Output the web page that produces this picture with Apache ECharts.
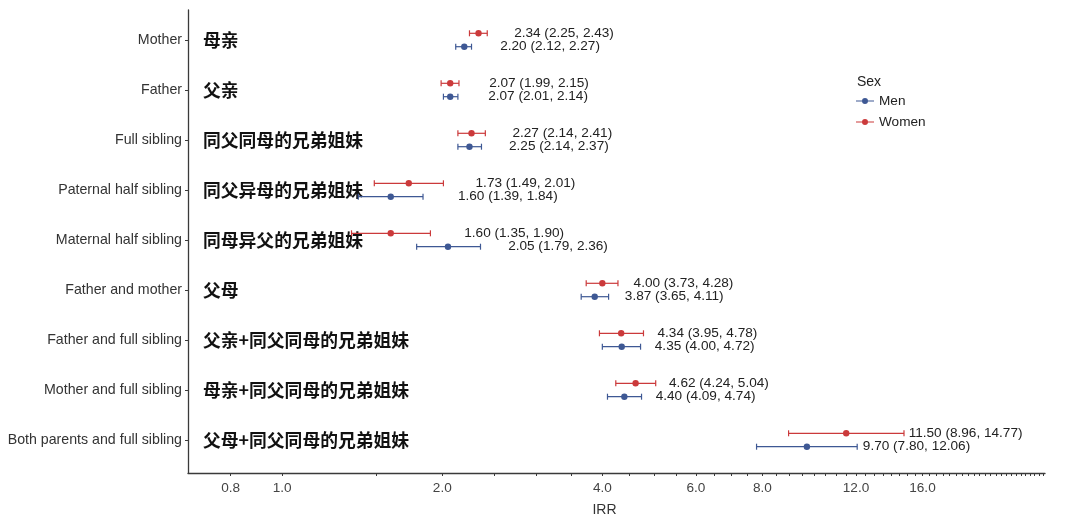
<!DOCTYPE html>
<html>
<head>
<meta charset="utf-8">
<script src="https://cdn.jsdelivr.net/npm/echarts@6/dist/echarts.min.js"></script>
<style>
html,body{margin:0;padding:0;background:#fff;}
#chart{width:1080px;height:522px;}
</style>
</head>
<body>
<div id="chart"></div>
<script>
const categories = ['Mother','Father','Full sibling','Paternal half sibling','Maternal half sibling','Father and mother','Father and full sibling','Mother and full sibling','Both parents and full sibling'];
const categoriesZh = ['母亲','父亲','同父同母的兄弟姐妹','同父异母的兄弟姐妹','同母异父的兄弟姐妹','父母','父亲+同父同母的兄弟姐妹','母亲+同父同母的兄弟姐妹','父母+同父同母的兄弟姐妹'];
const womenEst = [2.34,2.07,2.27,1.73,1.60,4.00,4.34,4.62,11.50];
const womenLo  = [2.25,1.99,2.14,1.49,1.35,3.73,3.95,4.24,8.96];
const womenHi  = [2.43,2.15,2.41,2.01,1.90,4.28,4.78,5.04,14.77];
const menEst = [2.20,2.07,2.25,1.60,2.05,3.87,4.35,4.40,9.70];
const menLo  = [2.12,2.01,2.14,1.39,1.79,3.65,4.00,4.09,7.80];
const menHi  = [2.27,2.14,2.37,1.84,2.36,4.11,4.72,4.74,12.06];
const xTickLabels = [0.8,1,2,4,6,8,12,16];
const xTicks = [0.8,1].concat(Array.from({length:52},(_,k)=>1.5+0.5*k));
const yPositions = categories.map((c,i)=>i+1);

const LATIN = '"Liberation Sans", Arial, Helvetica, sans-serif';
const CJK = '"Noto Sans CJK SC", sans-serif';
const RED = '#cb3a3b';
const BLUE = '#3e5894';
const AXIS = '#3a3a3a';

function makeSeries(name, color, est, lo, hi, dy) {
  return {
    type: 'custom',
    name: name,
    clip: false,
    itemStyle: {color: color},
    data: categories.map((c,i)=>[lo[i], est[i], hi[i], i+1]),
    encode: {x: [0,1,2], y: 3},
    renderItem: function (params, api) {
      const y = api.value(3);
      const l = api.value(0), e = api.value(1), h = api.value(2);
      const pL = api.coord([l, y]);
      const pE = api.coord([e, y]);
      const pH = api.coord([h, y]);
      const pT = api.coord([h + 0.3, y]);
      const yy = pE[1] + dy;
      const ls = {stroke: color, lineWidth: 1.2};
      return {
        type: 'group',
        children: [
          {type:'line', shape:{x1:pL[0], y1:yy, x2:pH[0], y2:yy}, style: ls},
          {type:'line', shape:{x1:pL[0], y1:yy-3, x2:pL[0], y2:yy+3}, style: ls},
          {type:'line', shape:{x1:pH[0], y1:yy-3, x2:pH[0], y2:yy+3}, style: ls},
          {type:'circle', shape:{cx:pE[0], cy:yy, r:3.2}, style:{fill: color}},
          {type:'text', style:{x:pT[0], y:yy, text: e.toFixed(2)+' ('+l.toFixed(2)+', '+h.toFixed(2)+')',
            fill:'#222', fontSize:13.6, fontFamily: LATIN, align:'left', verticalAlign:'middle'}}
        ]
      };
    }
  };
}

const iconPath = 'path://M0,2.4L18,2.4L18,3.6L0,3.6Z M6,3A3,3 0 1 1 12,3A3,3 0 1 1 6,3Z';

const chart = echarts.init(document.getElementById('chart'), null, {renderer: 'canvas'});
chart.setOption({
  animation: false,
  backgroundColor: '#fff',
  title: {text: 'Sex', left: 857, top: 75, padding: 0,
    textStyle: {fontSize: 14, fontWeight: 'normal', color: '#222', fontFamily: LATIN}},
  legend: {
    orient: 'vertical', left: 856, top: 94, padding: 0,
    itemWidth: 18, itemHeight: 6, itemGap: 7,
    textStyle: {fontSize: 13.6, color: '#222', fontFamily: LATIN},
    data: [{name: 'Men', icon: iconPath}, {name: 'Women', icon: iconPath}]
  },
  grid: {left: 188, right: 35, top: 10, bottom: 49, containLabel: false},
  xAxis: {
    type: 'log', logBase: 2, min: 0.665, max: 27.2,
    name: 'IRR', nameLocation: 'middle', nameGap: 30,
    nameTextStyle: {fontSize: 14, color: '#333', fontFamily: LATIN, padding: [0, 24, 0, 0]},
    axisLine: {show: true, lineStyle: {color: AXIS, width: 1.3}},
    axisTick: {show: true, length: 3, lineStyle: {color: AXIS}, customValues: xTicks},
    axisLabel: {customValues: xTickLabels, formatter: v => Number(v).toFixed(1), fontSize: 13.6,
      color: '#444', fontFamily: LATIN, margin: 8},
    splitLine: {show: false}, minorTick: {show: false}, minorSplitLine: {show: false}
  },
  yAxis: [{
    type: 'value', inverse: true, min: 0.4, max: 9.66,
    axisLine: {show: true, lineStyle: {color: AXIS, width: 1.3}},
    axisTick: {show: true, length: 3, lineStyle: {color: AXIS}, customValues: yPositions},
    axisLabel: {customValues: yPositions, formatter: v => categories[Math.round(v)-1] || '',
      fontSize: 14.2, color: '#333', fontFamily: LATIN, margin: 6},
    splitLine: {show: false}
  }, {
    type: 'value', inverse: true, min: 0.4, max: 9.66, position: 'left', offset: 0,
    axisLine: {show: false}, axisTick: {show: false}, splitLine: {show: false},
    axisLabel: {inside: true, customValues: yPositions, formatter: v => categoriesZh[Math.round(v)-1] || '',
      fontSize: 17.8, fontWeight: 'bold', color: '#111', fontFamily: CJK, margin: 15}
  }],
  series: [
    makeSeries('Men', BLUE, menEst, menLo, menHi, 6.7),
    makeSeries('Women', RED, womenEst, womenLo, womenHi, -6.7)
  ]
});
</script>
</body>
</html>
